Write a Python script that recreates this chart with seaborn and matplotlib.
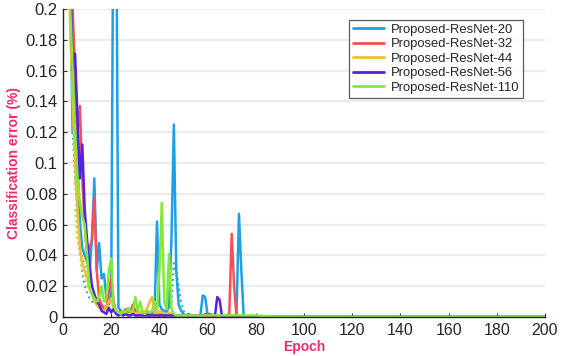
import matplotlib
matplotlib.use("Agg")
import matplotlib.pyplot as plt
import seaborn as sns
import pandas as pd
from matplotlib.ticker import FuncFormatter

# ---------------- data ----------------
series_names = ["Proposed-ResNet-20", "Proposed-ResNet-32", "Proposed-ResNet-44",
                "Proposed-ResNet-56", "Proposed-ResNet-110"]
series_colors = ["#1ea0e6", "#f5505a", "#f2be2e", "#5522e0", "#84e83a"]

epochs_main = list(range(1, 81)) + [90, 100, 110, 120, 130, 140, 150, 160, 170, 180, 190, 200]
tail = [0.0, 0.0, 0.0, 0.0, 0.0, 0.0, 0.0, 0.0, 0.0, 0.0, 0.0, 0.0]

resnet20 = [0.32, 0.26, 0.21, 0.12, 0.16, 0.10, 0.062, 0.045, 0.040, 0.036,
            0.030, 0.050, 0.090, 0.030, 0.048, 0.025, 0.028, 0.012, 0.008, 0.015,
            0.30, 0.30, 0.006, 0.004, 0.003, 0.005, 0.002, 0.003, 0.008, 0.004,
            0.003, 0.002, 0.004, 0.002, 0.003, 0.002, 0.004, 0.003, 0.062, 0.008,
            0.005, 0.004, 0.003, 0.008, 0.050, 0.125, 0.030, 0.008, 0.004, 0.002,
            0.001, 0.002, 0.001, 0.001, 0.001, 0.001, 0.001, 0.014, 0.013, 0.001,
            0.001, 0.001, 0.001, 0.001, 0.001, 0.001, 0.001, 0.001, 0.001, 0.001,
            0.001, 0.002, 0.067, 0.030, 0.0, 0.0, 0.0, 0.0, 0.0, 0.0] + tail

resnet32 = [0.35, 0.30, 0.25, 0.20, 0.16, 0.12, 0.137, 0.09, 0.06, 0.040,
            0.045, 0.050, 0.078, 0.030, 0.012, 0.008, 0.005, 0.006, 0.015, 0.026,
            0.010, 0.003, 0.002, 0.004, 0.002, 0.005, 0.002, 0.003, 0.008, 0.003,
            0.002, 0.002, 0.003, 0.002, 0.002, 0.001, 0.002, 0.001, 0.002, 0.001,
            0.002, 0.001, 0.001, 0.002, 0.001, 0.001, 0.001, 0.001, 0.001, 0.001,
            0.001, 0.001, 0.001, 0.001, 0.001, 0.001, 0.001, 0.001, 0.002, 0.002,
            0.002, 0.001, 0.001, 0.001, 0.001, 0.001, 0.001, 0.001, 0.002, 0.054,
            0.020, 0.0, 0.0, 0.0, 0.0, 0.0, 0.0, 0.0, 0.0, 0.0] + tail

resnet44 = [0.30, 0.24, 0.19, 0.14, 0.10, 0.07, 0.045, 0.035, 0.030, 0.025,
            0.018, 0.015, 0.010, 0.008, 0.006, 0.005, 0.004, 0.006, 0.010, 0.012,
            0.005, 0.003, 0.002, 0.003, 0.002, 0.003, 0.002, 0.002, 0.004, 0.002,
            0.003, 0.002, 0.004, 0.003, 0.006, 0.010, 0.013, 0.003, 0.002, 0.004,
            0.003, 0.002, 0.002, 0.003, 0.002, 0.001, 0.001, 0.001, 0.001, 0.001,
            0.001, 0.001, 0.001, 0.001, 0.001, 0.001, 0.001, 0.001, 0.001, 0.001,
            0.001, 0.001, 0.001, 0.001, 0.001, 0.001, 0.001, 0.001, 0.001, 0.001,
            0.001, 0.001, 0.0, 0.0, 0.0, 0.0, 0.0, 0.0, 0.0, 0.0] + tail

resnet56 = [0.30, 0.26, 0.22, 0.16, 0.171, 0.13, 0.09, 0.112, 0.07, 0.050,
            0.035, 0.020, 0.015, 0.010, 0.008, 0.004, 0.003, 0.002, 0.006, 0.003,
            0.005, 0.002, 0.001, 0.002, 0.001, 0.002, 0.001, 0.001, 0.002, 0.001,
            0.001, 0.001, 0.001, 0.001, 0.001, 0.001, 0.001, 0.001, 0.001, 0.001,
            0.001, 0.001, 0.001, 0.001, 0.001, 0.001, 0.001, 0.001, 0.001, 0.001,
            0.001, 0.001, 0.001, 0.001, 0.001, 0.001, 0.001, 0.001, 0.001, 0.001,
            0.001, 0.001, 0.0, 0.013, 0.011, 0.0, 0.0, 0.0, 0.0, 0.0,
            0.0, 0.0, 0.0, 0.0, 0.0, 0.0, 0.0, 0.0, 0.0, 0.0] + tail

resnet110 = [0.30, 0.25, 0.20, 0.16, 0.12, 0.09, 0.075, 0.065, 0.060, 0.040,
             0.020, 0.015, 0.012, 0.010, 0.013, 0.020, 0.010, 0.012, 0.030, 0.038,
             0.008, 0.004, 0.003, 0.002, 0.004, 0.003, 0.006, 0.003, 0.004, 0.013,
             0.004, 0.010, 0.003, 0.002, 0.004, 0.003, 0.004, 0.010, 0.005, 0.030,
             0.074, 0.010, 0.005, 0.041, 0.005, 0.002, 0.001, 0.001, 0.001, 0.001,
             0.001, 0.001, 0.001, 0.001, 0.001, 0.001, 0.001, 0.001, 0.001, 0.001,
             0.001, 0.001, 0.001, 0.001, 0.001, 0.001, 0.001, 0.001, 0.001, 0.001,
             0.001, 0.001, 0.001, 0.001, 0.001, 0.001, 0.001, 0.001, 0.001, 0.001] + tail

# dotted companion curves (no legend entries)
dot_blue_epochs = [4, 5, 6, 7, 8, 9, 10, 11, 12, 13, 14, 15, 16, 18, 20, 25, 30, 40, 44, 45, 46, 47, 48, 49, 50, 52]
dot_blue = [0.12, 0.09, 0.065, 0.05, 0.028, 0.02, 0.016, 0.012, 0.01, 0.009, 0.008, 0.007, 0.006,
            0.005, 0.004, 0.003, 0.003, 0.003, 0.004, 0.010, 0.035, 0.030, 0.020, 0.010, 0.004, 0.001]
dot_yellow_epochs = [5, 6, 7, 8, 9, 10, 11, 12, 13, 14, 15, 16, 17, 18, 19, 20]
dot_yellow = [0.09, 0.07, 0.045, 0.038, 0.035, 0.03, 0.025, 0.02, 0.015, 0.012, 0.01, 0.008,
              0.007, 0.006, 0.005, 0.004]
dot_green_epochs = [5, 6, 7, 8, 9, 10, 11, 12, 13, 14, 15, 16, 17, 18, 19, 20]
dot_green = [0.07, 0.05, 0.04, 0.03, 0.025, 0.02, 0.018, 0.015, 0.013, 0.012, 0.01, 0.009,
             0.008, 0.007, 0.006, 0.005]

# ---------------- build table ----------------
all_values = [resnet20, resnet32, resnet44, resnet56, resnet110]
rows = []
for name, vals in zip(series_names, all_values):
    for e, v in zip(epochs_main, vals):
        rows.append({"Epoch": e, "err": v, "model": name})
df = pd.DataFrame(rows)

# ---------------- plot ----------------
sns.set_theme(style="white")
plt.rcParams["font.family"] = ["Liberation Sans", "DejaVu Sans"]

fig = plt.figure(figsize=(5.68, 3.56), dpi=100)
ax = fig.add_axes([63 / 568, 1 - 317 / 356, (545 - 63) / 568, (317 - 9) / 356])

for y in [0.02, 0.04, 0.06, 0.08, 0.1, 0.12, 0.14, 0.16, 0.18, 0.2]:
    ax.axhline(y, color="#ebebeb", lw=1.6, zorder=0)

sns.lineplot(x=dot_blue_epochs, y=dot_blue, ax=ax, color="#22b4c8", lw=1.5,
             linestyle=":", legend=False)
sns.lineplot(x=dot_yellow_epochs, y=dot_yellow, ax=ax, color="#f2a020", lw=1.5,
             linestyle=":", legend=False)
sns.lineplot(x=dot_green_epochs, y=dot_green, ax=ax, color="#9be84a", lw=1.5,
             linestyle=":", legend=False)

sns.lineplot(data=df, x="Epoch", y="err", hue="model", hue_order=series_names,
             palette=series_colors, lw=1.8, ax=ax)

ax.set_xlim(0, 200)
ax.set_ylim(0, 0.2)
ax.set_xticks([0, 20, 40, 60, 80, 100, 120, 140, 160, 180, 200])
ax.set_yticks([0, 0.02, 0.04, 0.06, 0.08, 0.1, 0.12, 0.14, 0.16, 0.18, 0.2])
ax.yaxis.set_major_formatter(FuncFormatter(lambda v, p: "%g" % round(v, 2)))
ax.tick_params(axis="both", direction="in", length=3, width=0.8, color="#333333",
               pad=4, bottom=True, left=True)
ax.tick_params(axis="y", labelsize=12)
ax.tick_params(axis="x", labelsize=11.5)

for s in ["top", "right"]:
    ax.spines[s].set_visible(False)
for s in ["left", "bottom"]:
    ax.spines[s].set_color("#222222")
    ax.spines[s].set_linewidth(1.0)

label_color = "#ee2c6c"
ax.set_xlabel("Epoch", color=label_color, fontsize=10, fontweight="bold", labelpad=2)
ax.set_ylabel("Classification error (%)", color=label_color, fontsize=10,
              fontweight="bold", labelpad=3)

leg = ax.legend(loc="upper right", bbox_to_anchor=(0.955, 0.965), borderaxespad=0,
                fontsize=9.4, frameon=True, fancybox=False, handlelength=2.4,
                labelspacing=0.18, borderpad=0.3, handletextpad=0.5)
leg.get_frame().set_edgecolor("#333333")
leg.get_frame().set_linewidth(0.9)
for line in leg.get_lines():
    line.set_linewidth(2.0)

fig.savefig("out.png", dpi=100)
